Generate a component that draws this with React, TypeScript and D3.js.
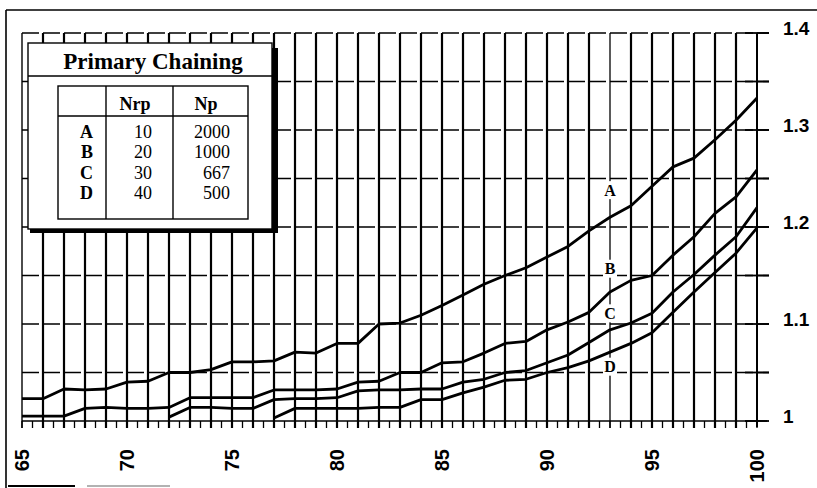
import React from "react";
import * as d3 from "d3";

// x categories (65 .. 100)
const xs = [
  65, 66, 67, 68, 69, 70, 71, 72, 73, 74, 75, 76, 77, 78, 79, 80, 81, 82,
  83, 84, 85, 86, 87, 88, 89, 90, 91, 92, 93, 94, 95, 96, 97, 98, 99, 100,
];

const seriesA = [
  1.023, 1.023, 1.033, 1.032, 1.033, 1.04, 1.041, 1.05, 1.05, 1.053, 1.061,
  1.061, 1.062, 1.071, 1.07, 1.08, 1.08, 1.1, 1.101, 1.109, 1.119, 1.13, 1.141,
  1.15, 1.158, 1.169, 1.18, 1.196, 1.21, 1.222, 1.242, 1.262, 1.271, 1.29,
  1.31, 1.333,
];
const seriesB = [
  1.005, 1.005, 1.005, 1.013, 1.014, 1.013, 1.013, 1.014, 1.024, 1.024, 1.024,
  1.024, 1.032, 1.032, 1.032, 1.033, 1.04, 1.041, 1.05, 1.05, 1.06, 1.061,
  1.07, 1.08, 1.082, 1.094, 1.102, 1.112, 1.133, 1.145, 1.15, 1.171, 1.19,
  1.214, 1.231, 1.259,
];
const seriesC = [
  null, null, null, null, null, null, null, 1.004, 1.014, 1.014, 1.013, 1.013,
  1.022, 1.023, 1.023, 1.024, 1.031, 1.032, 1.032, 1.033, 1.033, 1.04, 1.043,
  1.05, 1.052, 1.06, 1.068, 1.081, 1.094, 1.101, 1.111, 1.133, 1.151, 1.171,
  1.19, 1.22,
];
const seriesD = [
  null, null, null, null, null, null, null, null, null, null, null, null,
  1.003, 1.013, 1.013, 1.013, 1.013, 1.014, 1.014, 1.022, 1.022, 1.029, 1.035,
  1.042, 1.043, 1.05, 1.055, 1.062, 1.071, 1.08, 1.091, 1.112, 1.133, 1.153,
  1.173, 1.199,
];

const seriesNames = ["A", "B", "C", "D"];
const labelX = 93;
const labelY = [1.238, 1.157, 1.111, 1.056];

const xTickLabels = [65, 70, 75, 80, 85, 90, 95, 100];
const yTickLabels = [1, 1.1, 1.2, 1.3, 1.4];
const yGrid = [1.05, 1.1, 1.15, 1.2, 1.25, 1.3, 1.35, 1.4];

// legend table
const legendTitle = "Primary Chaining";
const legendHead = ["Nrp", "Np"];
const nrp = [10, 20, 30, 40];
const np = [2000, 1000, 667, 500];

const W = 817;
const H = 488;

export default function App() {
  const x = d3.scaleLinear().domain([65, 100]).range([22, 757]);
  const y = d3.scaleLinear().domain([1, 1.4]).range([421, 33]);

  const line = d3
    .line<number | null>()
    .defined((d) => d != null)
    .x((_, i) => x(xs[i]))
    .y((d) => y(d as number));

  const all = [seriesA, seriesB, seriesC, seriesD];
  const halfTicks = d3.range(65, 100.01, 0.5);
  const sans = "'Liberation Sans', Arial, sans-serif";
  const serif = "'Liberation Serif', 'Times New Roman', serif";

  return (
    <svg
      width={W}
      height={H}
      style={{ position: "absolute", left: 0, top: 0, background: "#fff" }}
    >
      {/* outer frame */}
      <line x1={6} y1={10} x2={W} y2={10} stroke="#000" strokeWidth={1.6} />
      <line x1={6} y1={10} x2={6} y2={H} stroke="#000" strokeWidth={1.6} />
      <line x1={8} y1={486} x2={75} y2={486} stroke="#000" strokeWidth={2} />
      <line x1={87} y1={486} x2={170} y2={486} stroke="#999" strokeWidth={1.5} />

      {/* horizontal dashed grid */}
      {yGrid.map((v) => (
        <line
          key={"h" + v}
          x1={x(65)}
          x2={x(100) + 12}
          y1={y(v)}
          y2={y(v)}
          stroke="#000"
          strokeWidth={1.7}
          strokeDasharray="17 4"
        />
      ))}
      {/* baseline with half-unit ticks */}
      <line x1={x(65)} x2={x(100) + 10} y1={y(1)} y2={y(1)} stroke="#000" strokeWidth={1.6} />
      {halfTicks.map((v) => (
        <line
          key={"t" + v}
          x1={x(v)}
          x2={x(v)}
          y1={y(1)}
          y2={y(1) + 7}
          stroke="#000"
          strokeWidth={1.3}
        />
      ))}

      {/* vertical grid */}
      {xs.map((v) =>
        v === labelX || v === 100 ? null : (
          <line
            key={"v" + v}
            x1={x(v)}
            x2={x(v)}
            y1={y(1.4)}
            y2={y(1) + 7}
            stroke="#000"
            strokeWidth={v === 65 ? 1.4 : 2.2}
          />
        )
      )}
      <line x1={x(labelX)} x2={x(labelX)} y1={y(1.4)} y2={y(1) + 7} stroke="#000" strokeWidth={1.3} />

      {/* right axis */}
      <line x1={x(100)} x2={x(100)} y1={y(1.4)} y2={y(1) + 6} stroke="#000" strokeWidth={2} />
      {yGrid.concat([1]).map((v) => (
        <line
          key={"rt" + v}
          x1={x(100) - 12}
          x2={x(100) + 12}
          y1={y(v)}
          y2={y(v)}
          stroke="#000"
          strokeWidth={1.8}
        />
      ))}
      {yTickLabels.map((v) => (
        <text
          key={"yl" + v}
          x={x(100) + 26}
          y={y(v) - 5}
          dy="0.36em"
          fontFamily={sans}
          fontWeight="bold"
          fontSize={19}
        >
          {v === 1 ? "1" : v.toFixed(1)}
        </text>
      ))}

      {/* x labels, rotated */}
      {xTickLabels.map((v) => (
        <text
          key={"xl" + v}
          transform={`translate(${x(v) + 7},449) rotate(-90)`}
          textAnchor="end"
          fontFamily={sans}
          fontWeight="bold"
          fontSize={20}
        >
          {v}
        </text>
      ))}

      {/* series */}
      {all.map((s, i) => (
        <path
          key={"s" + i}
          d={line(s) || ""}
          fill="none"
          stroke="#000"
          strokeWidth={2.8}
          strokeLinejoin="round"
        />
      ))}

      {/* series labels on the 93 line */}
      {seriesNames.map((n, i) => (
        <g key={"lab" + n}>
          <rect x={x(labelX) - 7} y={y(labelY[i]) - 9} width={14} height={18} fill="#fff" />
          <text
            x={x(labelX)}
            y={y(labelY[i])}
            dy="0.36em"
            textAnchor="middle"
            fontFamily={serif}
            fontWeight="bold"
            fontSize={16}
          >
            {n}
          </text>
        </g>
      ))}

      {/* legend table */}
      <g>
        <rect x={30} y={48} width={248} height={185} fill="#000" />
        <rect x={28} y={43} width={244} height={186} fill="#fff" stroke="#000" strokeWidth={1.4} />
        <line x1={28} x2={278} y1={76} y2={76} stroke="#000" strokeWidth={1.4} />
        <text
          x={153}
          y={69}
          textAnchor="middle"
          fontFamily={serif}
          fontWeight="bold"
          fontSize={23}
        >
          {legendTitle}
        </text>
        <rect x={58} y={86} width={190} height={133} fill="none" stroke="#000" strokeWidth={1.4} />
        <line x1={106} x2={106} y1={86} y2={219} stroke="#000" strokeWidth={1.4} />
        <line x1={173} x2={173} y1={86} y2={219} stroke="#000" strokeWidth={1.4} />
        <line x1={58} x2={248} y1={116} y2={116} stroke="#000" strokeWidth={1.4} />
        <text x={135} y={110} textAnchor="middle" fontFamily={serif} fontWeight="bold" fontSize={18}>
          {legendHead[0]}
        </text>
        <text x={206} y={110} textAnchor="middle" fontFamily={serif} fontWeight="bold" fontSize={18}>
          {legendHead[1]}
        </text>
        {seriesNames.map((n, i) => {
          const by = 138 + i * 20.3;
          return (
            <g key={"row" + n} fontFamily={serif} fontSize={18}>
              <text x={93} y={by} textAnchor="end" fontWeight="bold">
                {n}
              </text>
              <text x={152} y={by} textAnchor="end">
                {nrp[i]}
              </text>
              <text x={230} y={by} textAnchor="end">
                {np[i]}
              </text>
            </g>
          );
        })}
      </g>
    </svg>
  );
}
